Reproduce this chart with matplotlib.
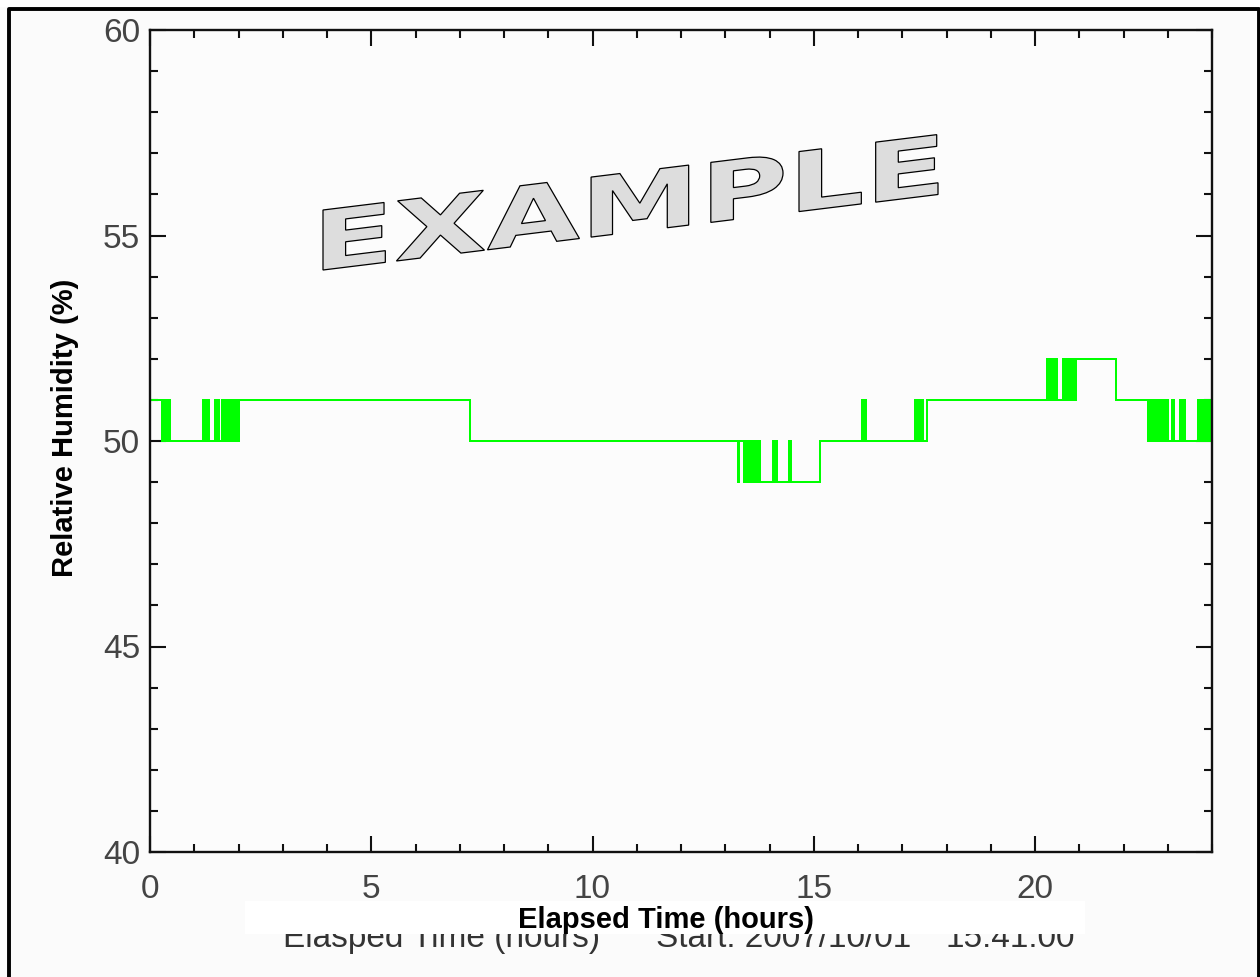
import numpy as np
import matplotlib
matplotlib.use('Agg')
import matplotlib.pyplot as plt
from matplotlib.ticker import MultipleLocator
from matplotlib.textpath import TextPath
from matplotlib.font_manager import FontProperties
from matplotlib.patches import PathPatch, Rectangle
from matplotlib.transforms import Affine2D
from matplotlib.lines import Line2D

plt.rcParams['font.family'] = ['Liberation Sans', 'DejaVu Sans']

W, H = 1260, 977

# Humidity logger record: change times (hours) and new level (%RH), step-post
times = [0.00, 0.26, 0.29, 0.32, 0.35, 0.38, 0.41, 0.45,
         1.20, 1.23, 1.26, 1.29, 1.31, 1.33,
         1.47, 1.50, 1.53, 1.57,
         1.62, 1.65, 1.68, 1.71, 1.74, 1.77, 1.80, 1.83, 1.86, 1.90,
         1.95, 1.97, 2.02,
         7.23,
         13.28, 13.32, 13.43, 13.46, 13.49, 13.52, 13.55, 13.58, 13.61,
         13.64, 13.67, 13.70, 13.73, 13.76, 13.79,
         14.07, 14.10, 14.13, 14.16,
         14.45, 14.49,
         15.13,
         16.08, 16.11, 16.14, 16.17,
         17.29, 17.32, 17.35, 17.38, 17.41, 17.44, 17.46, 17.48, 17.55,
         20.28, 20.32, 20.36, 20.39, 20.42, 20.45, 20.47, 20.49,
         20.64, 20.68, 20.72, 20.75, 20.78, 20.83, 20.88, 20.90, 20.93,
         21.83,
         22.56, 22.59, 22.62, 22.65, 22.68, 22.71, 22.74, 22.77, 22.79,
         22.81, 22.84, 22.89, 22.93, 22.97, 23.01, 23.09, 23.13,
         23.28, 23.31, 23.34, 23.39,
         23.69, 23.72, 23.75, 23.78, 23.81, 23.84, 23.87, 23.90, 23.93, 23.97,
         24.00]
values = [51, 50, 51, 50, 51, 50, 51, 50,
          51, 50, 51, 50, 51, 50,
          51, 50, 51, 50,
          51, 50, 51, 50, 51, 50, 51, 50, 51, 50,
          51, 50, 51,
          50,
          49, 50, 49, 50, 49, 50, 49, 50, 49,
          50, 49, 50, 49, 50, 49,
          50, 49, 50, 49,
          50, 49,
          50,
          51, 50, 51, 50,
          51, 50, 51, 50, 51, 50, 51, 50, 51,
          52, 51, 52, 51, 52, 51, 52, 51,
          52, 51, 52, 51, 52, 51, 52, 51, 52,
          51,
          50, 51, 50, 51, 50, 51, 50, 51, 50,
          51, 50, 51, 50, 51, 50, 51, 50,
          51, 50, 51, 50,
          51, 50, 51, 50, 51, 50, 51, 50, 51, 50,
          50]

x_major = [0, 5, 10, 15, 20]
y_major = [40, 45, 50, 55, 60]

fig = plt.figure(figsize=(W / 100, H / 100), dpi=100, facecolor='#fbfbfb')
ax = fig.add_axes([150 / W, (H - 852) / H, (1212 - 150) / W, (852 - 30) / H])
ax.set_facecolor('#fcfcfc')

ax.step(times, values, where='post', color='#00ff00', lw=1.1, antialiased=False)

ax.set_xlim(0, 24)
ax.set_ylim(40, 60)
ax.set_xticks(x_major)
ax.set_yticks(y_major)
ax.xaxis.set_minor_locator(MultipleLocator(1))
ax.yaxis.set_minor_locator(MultipleLocator(1))
ax.tick_params(which='both', direction='in', top=True, right=True,
               color='#111111', width=1.5, labelcolor='#444444', labelsize=24)
ax.tick_params(which='major', length=11.5)
ax.tick_params(which='minor', length=5.5)
ax.tick_params(axis='x', pad=16)
ax.tick_params(axis='y', pad=7)
for s in ax.spines.values():
    s.set_linewidth(1.7)
    s.set_color('#111111')

# axis titles
fig.text(65 / W, (H - 427.5) / H, 'Relative Humidity (%)', rotation=90,
         ha='center', va='center', fontsize=21, fontweight='bold', color='black')
fig.text(666 / W, (H - 928) / H, 'Elapsed Time (hours)', ha='center',
         va='baseline', fontsize=21, fontweight='bold', color='black', zorder=3)

# old footer line, half hidden behind a white strip
footer_y = (H - 947) / H
fig.text(283 / W, footer_y, 'Elasped Time (hours)', fontsize=24, color='#333333', zorder=1)
fig.text(656 / W, footer_y, 'Start: 2007/10/01', fontsize=24, color='#333333', zorder=1)
fig.text(946 / W, footer_y, '15:41:00', fontsize=24, color='#333333', zorder=1)
fig.add_artist(Rectangle((245 / W, (H - 934) / H), (1085 - 245) / W, 33 / H,
                         transform=fig.transFigure, facecolor='white',
                         edgecolor='none', zorder=2))

# slanted EXAMPLE watermark
tp = TextPath((0, 0), 'EXAMPLE', size=1,
              prop=FontProperties(family='DejaVu Sans', weight='bold'))
ext = tp.get_extents()
wm = (Affine2D().translate(-ext.x0, -ext.y0)
      .scale(615 / ext.width, 60 / ext.height)
      .skew_deg(0, 7)
      .translate(323, H - 270)
      .scale(1 / W, 1 / H))
fig.add_artist(PathPatch(tp, transform=wm + fig.transFigure, facecolor='#dddddd',
                         edgecolor='black', lw=0.9, zorder=5))

# outer frame (no bottom edge)
fig.add_artist(Rectangle((0, (H - 7) / H), 1, 7 / H, transform=fig.transFigure,
                         facecolor='white', edgecolor='none', zorder=0))
fig.add_artist(Line2D([9 / W, 9 / W, 1258.5 / W, 1258.5 / W],
                      [0, (H - 8.5) / H, (H - 8.5) / H, 0],
                      transform=fig.transFigure, color='black', lw=2.8, zorder=6))

fig.savefig('out.png', dpi=100, facecolor=fig.get_facecolor())
